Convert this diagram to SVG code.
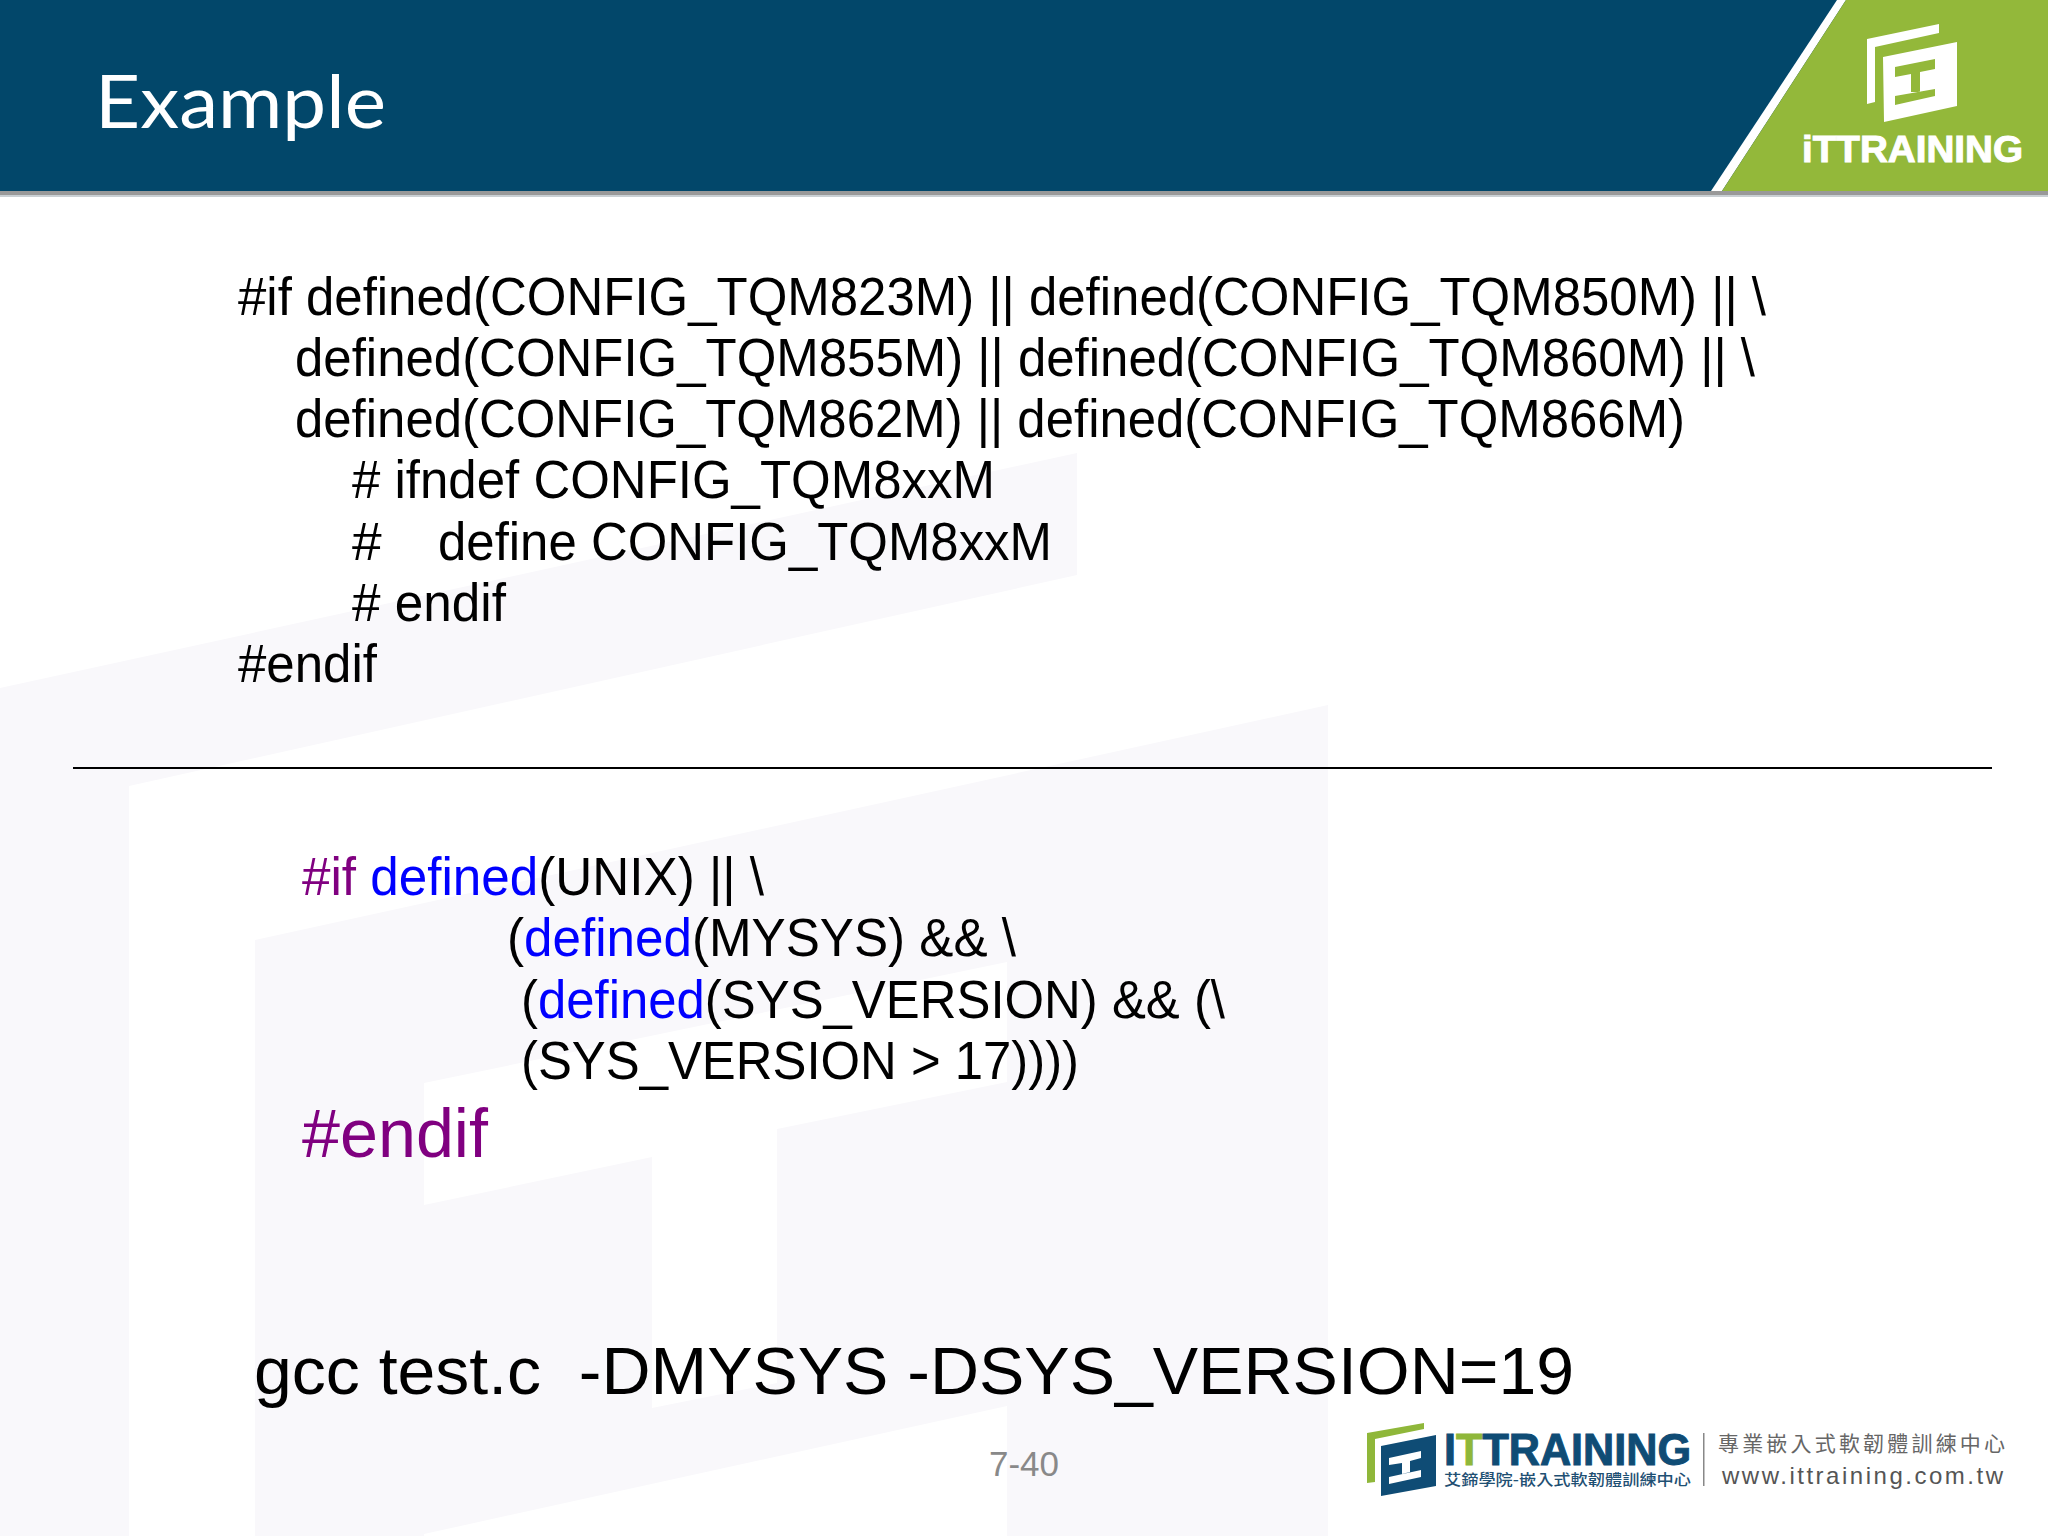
<svg xmlns="http://www.w3.org/2000/svg" width="2048" height="1536" viewBox="0 0 2048 1536">
<style>
text{font-family:"Liberation Sans",Arial,sans-serif;white-space:pre}
.code{font-size:53.3px;fill:#000}
.kw{fill:#0000ff}
.pp{fill:#800080}
.cjk{font-family:"Noto Sans CJK TC","Noto Sans CJK SC",sans-serif}
.wm{fill:#f9f8fb}
.navy{fill:#02476a}
.lg{fill:#8fb73a}
.lb{fill:#0f4c75}
</style>
<rect width="2048" height="1536" fill="#fff"/>
<g id="watermark">
<path class="wm" d="M0 688L1077 453V575L129 786V1536H0Z"/>
<path class="wm" fill-rule="evenodd" d="M255 940L1328 705V1536H255ZM424 1083L1007 962V1082L777 1129V1383L652 1408V1157L424 1205ZM424 1534L1007 1406V1536H424Z"/>
</g>
<g id="header">
<rect width="2048" height="197" fill="#c9cfd3"/>
<rect y="191" width="2048" height="4" fill="#999"/>
<rect class="navy" width="2048" height="191"/>
<path d="M1837 0H1846L1722 191H1711Z" fill="#fff"/>
<path d="M1846 0H2048V191H1722Z" fill="#93b83a"/>
<text x="95" y="128" font-size="73" fill="#fff" style="font-family:Lato,'Liberation Sans',sans-serif" textLength="291" lengthAdjust="spacingAndGlyphs">Example</text>
<g id="header-logo" fill="#fff">
<path d="M1867 39L1939 24V33L1875 47V102L1867 104Z"/>
<path fill-rule="evenodd" d="M1883 57L1957 42V106L1884 122ZM1895 67V77L1911 74V92H1920V72L1935 69V59ZM1895 96V105L1935 96V89Z"/>
<text x="1802" y="162" font-size="37" font-weight="700" stroke="#fff" stroke-width="1" textLength="221" lengthAdjust="spacingAndGlyphs">iTTRAINING</text>
</g>
</g>
<g id="code-top">
<text class="code" x="238" y="315" textLength="1528" lengthAdjust="spacingAndGlyphs">#if defined(CONFIG_TQM823M) || defined(CONFIG_TQM850M) || \</text>
<text class="code" x="295" y="376" textLength="1460" lengthAdjust="spacingAndGlyphs">defined(CONFIG_TQM855M) || defined(CONFIG_TQM860M) || \</text>
<text class="code" x="295" y="437" textLength="1390" lengthAdjust="spacingAndGlyphs">defined(CONFIG_TQM862M) || defined(CONFIG_TQM866M)</text>
<text class="code" x="352" y="498" textLength="643" lengthAdjust="spacingAndGlyphs"># ifndef CONFIG_TQM8xxM</text>
<text class="code" x="352" y="560">#</text>
<text class="code" x="438" y="560" textLength="614" lengthAdjust="spacingAndGlyphs">define CONFIG_TQM8xxM</text>
<text class="code" x="352" y="621" textLength="154" lengthAdjust="spacingAndGlyphs"># endif</text>
<text class="code" x="238" y="682" textLength="139" lengthAdjust="spacingAndGlyphs">#endif</text>
</g>
<line id="rule" x1="73" y1="768" x2="1992" y2="768" stroke="#000" stroke-width="2"/>
<g id="code-bottom">
<text class="code" x="302" y="895" textLength="462" lengthAdjust="spacingAndGlyphs"><tspan class="pp">#if</tspan> <tspan class="kw">defined</tspan>(UNIX) || \</text>
<text class="code" x="507" y="956" textLength="509" lengthAdjust="spacingAndGlyphs">(<tspan class="kw">defined</tspan>(MYSYS) &amp;&amp; \</text>
<text class="code" x="521" y="1018" textLength="704" lengthAdjust="spacingAndGlyphs">(<tspan class="kw">defined</tspan>(SYS_VERSION) &amp;&amp; (\</text>
<text class="code" x="521" y="1079" textLength="558" lengthAdjust="spacingAndGlyphs">(SYS_VERSION &gt; 17))))</text>
<text class="pp" x="302" y="1157" font-size="68" textLength="186" lengthAdjust="spacingAndGlyphs">#endif</text>
</g>
<text id="command" x="254" y="1394" font-size="67" fill="#000" textLength="1320" lengthAdjust="spacingAndGlyphs">gcc test.c  -DMYSYS -DSYS_VERSION=19</text>
<text id="page-number" x="1024" y="1476" font-size="35" fill="#898989" text-anchor="middle">7-40</text>
<g id="footer-logo">
<path class="lg" d="M1367 1433L1424 1423V1429L1375 1439V1482L1367 1483Z"/>
<path class="lb" fill-rule="evenodd" d="M1381 1446L1436 1435V1486L1381 1496ZM1389 1458V1465L1402 1463V1474L1410 1472V1461L1421 1458V1451ZM1389 1477V1484L1421 1477V1470Z"/>
<text x="1444" y="1465" font-size="44" font-weight="700" class="lb" stroke="#0f4c75" stroke-width="1" textLength="247" lengthAdjust="spacingAndGlyphs">I<tspan class="lg" stroke="#8fb73a">T</tspan>TRAINING</text>
<text class="cjk" x="1444" y="1485" font-size="15" font-weight="500" fill="#1f5073" textLength="247" lengthAdjust="spacingAndGlyphs">艾鍗學院-嵌入式軟韌體訓練中心</text>
<rect x="1703" y="1433" width="1.5" height="53" fill="#888"/>
<text class="cjk" x="1718" y="1451" font-size="21" fill="#666" textLength="287">專業嵌入式軟韌體訓練中心</text>
<text x="1722" y="1484" font-size="24" fill="#555" textLength="281">www.ittraining.com.tw</text>
</g>
</svg>
